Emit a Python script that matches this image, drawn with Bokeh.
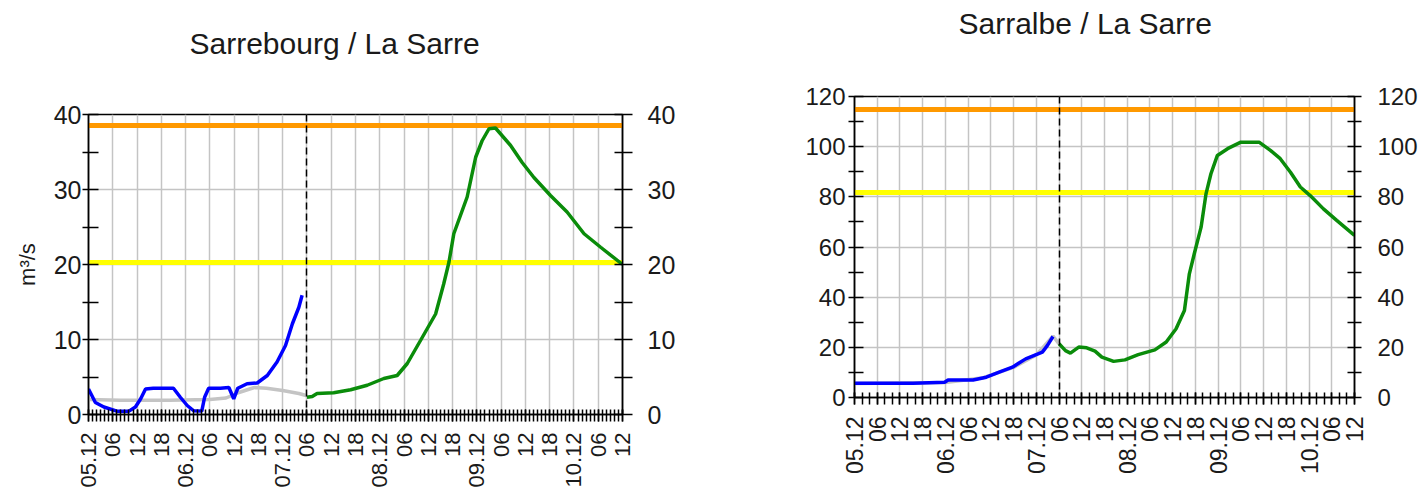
import math
from bokeh.plotting import figure
from bokeh.models import LinearAxis, FixedTicker, Range1d, Spacer
from bokeh.layouts import row, column
from bokeh.embed import file_html
from bokeh.resources import INLINE

# ---------------- data ----------------
hours = list(range(0, 133, 6))
tick_labels = ["05.12", "06", "12", "18", "06.12", "06", "12", "18", "07.12", "06", "12", "18",
               "08.12", "06", "12", "18", "09.12", "06", "12", "18", "10.12", "06", "12"]
now_hour = 54

# Sarrebourg
sb_obs_t = [0, 1.7, 3.8, 7, 10, 11.6, 12.9, 14.1, 16, 21, 22.7, 24.4, 26, 28, 28.7, 29.7, 32.6,
            34.7, 35.9, 36.9, 39.2, 41.7, 44.2, 46.6, 48.7, 50.4, 52, 52.8]
sb_obs_q = [3.4, 1.6, 1.0, 0.45, 0.45, 1.0, 2.1, 3.4, 3.5, 3.5, 2.3, 1.2, 0.5, 0.45, 2.3, 3.5, 3.5,
            3.6, 2.1, 3.5, 4.1, 4.2, 5.2, 7.0, 9.2, 12.1, 14.3, 15.9]
sb_sim_t = [0, 8, 20, 30, 34, 37, 41, 44, 48, 52, 54]
sb_sim_q = [2.0, 1.9, 1.9, 2.0, 2.2, 2.9, 3.6, 3.5, 3.2, 2.8, 2.5]
sb_fc_t = [54, 55.3, 56.5, 60.6, 64.8, 68.9, 73, 76.3, 78.8, 82.1, 85.8, 87.8, 89.1, 90.3, 93.6,
           95.7, 97.3, 99, 100.6, 104.3, 107.2, 110.1, 114.2, 118.3, 122.5, 126.6, 132]
sb_fc_q = [2.3, 2.4, 2.8, 2.9, 3.3, 3.9, 4.8, 5.2, 6.8, 9.9, 13.4, 17.4, 20.3, 24.1, 29.0,
           34.3, 36.5, 38.1, 38.2, 35.9, 33.6, 31.6, 29.2, 27.0, 24.1, 22.3, 20.0]
sb_thresholds = [38.5, 20.3]

# Sarralbe
sa_obs_t = [0, 15.5, 23.8, 24.7, 31.3, 34.8, 38.2, 41.7, 45.2, 49.6, 50.9, 52.4]
sa_obs_q = [5.7, 5.7, 6.1, 7.0, 7.0, 8.1, 10.1, 12.1, 15.4, 18.1, 20.7, 24.3]
sa_sim_t = [0, 24, 34, 42, 48, 52.4, 54]
sa_sim_q = [5.6, 6.0, 7.9, 12.0, 17.0, 24.5, 21.4]
sa_fc_t = [54, 55.7, 57, 59.2, 61.3, 63.5, 65.3, 68.4, 71.4, 74.9, 79.3, 82.3, 84.9, 87.1, 88.4,
           89.7, 91.5, 92.8, 94.1, 95.8, 98.5, 102, 106.8, 109.8, 112.4, 115.1, 117.7, 120.3,
           123.8, 127.3, 132]
sa_fc_q = [21.4, 18.7, 17.7, 20.1, 19.8, 18.5, 16.1, 14.4, 15.0, 17.1, 19.0, 22.1, 27.4, 34.7, 49.3,
           57.3, 67.9, 81.2, 89.2, 96.5, 99.2, 101.8, 101.8, 98.5, 95.2, 89.8, 83.9, 80.5,
           75.2, 70.6, 64.6]
sa_thresholds = [115, 81.8]

FONT = "Liberation Sans"
TXT = "#1a1a1a"
threshold_colors = ["#ff9900", "#ffff00"]


def make_chart(title, ymax, ystep, obs_t, obs_q, sim_t, sim_q, fc_t, fc_q, thresholds,
               width, height, bl, br, bt, bb, title_offset, title_lh, ylabel,
               ytick_font, xtick_font, left_in, left_out, right_in, right_out,
               lstand, rstand, xstand, minor_step):
    p = figure(width=width, height=height, output_backend="svg", toolbar_location=None,
               x_range=Range1d(0, 132), y_range=Range1d(0, ymax),
               min_border_left=bl, min_border_right=br, min_border_top=bt, min_border_bottom=bb,
               background_fill_color="white", border_fill_color="white")
    p.outline_line_color = "black"
    p.outline_line_width = 1.5

    # title (second, blank line lifts it away from the frame)
    p.title.text = title + "\n "
    p.title.text_font = FONT
    p.title.text_font_size = "30px"
    p.title.text_font_style = "normal"
    p.title.text_color = TXT
    p.title.text_line_height = title_lh
    p.title.align = "left"
    p.title.offset = title_offset
    p.title.standoff = 0

    yt = list(range(0, ymax + 1, ystep))
    yminor = [v + ystep / 2 for v in yt[:-1]]
    minor_h = [h for h in range(0, 133, minor_step)]
    xt = FixedTicker(ticks=hours, minor_ticks=minor_h)

    # grids
    p.xgrid.ticker = FixedTicker(ticks=hours)
    p.ygrid.ticker = FixedTicker(ticks=yt)
    for g in (p.xgrid, p.ygrid):
        g.grid_line_color = "#c4c4c4"
        g.grid_line_width = 1.5

    # x axis
    xa = p.xaxis[0]
    xa.ticker = xt
    xa.major_label_overrides = {h: lab for h, lab in zip(hours, tick_labels)}
    xa.major_label_orientation = math.pi / 2
    xa.major_label_text_font = FONT
    xa.major_label_text_font_size = xtick_font
    xa.major_label_text_color = TXT
    xa.major_label_standoff = xstand
    xa.major_tick_in = 5
    xa.major_tick_out = 7
    xa.minor_tick_in = 5
    xa.minor_tick_out = 7
    xa.major_tick_line_width = 1.5
    xa.minor_tick_line_width = 1.5
    xa.axis_line_width = 1.5
    xa.major_tick_line_color = "black"
    xa.minor_tick_line_color = "black"

    # y axes
    ya = p.yaxis[0]
    ra = LinearAxis()
    p.add_layout(ra, "right")
    for ax, tin, tout, st in ((ya, left_in, left_out, lstand), (ra, right_in, right_out, rstand)):
        ax.ticker = FixedTicker(ticks=yt, minor_ticks=yminor)
        ax.major_label_text_font = FONT
        ax.major_label_text_font_size = ytick_font
        ax.major_label_text_color = TXT
        ax.major_label_standoff = st
        ax.major_tick_in = tin
        ax.major_tick_out = tout
        ax.minor_tick_in = tin
        ax.minor_tick_out = tout
        ax.major_tick_line_width = 1.5
        ax.minor_tick_line_width = 1.5
        ax.axis_line_width = 1.5
        ax.major_tick_line_color = "black"
        ax.minor_tick_line_color = "black"
    if ylabel:
        ya.axis_label = ylabel
        ya.axis_label_text_font = FONT
        ya.axis_label_text_font_size = "22px"
        ya.axis_label_text_font_style = "normal"
        ya.axis_label_text_color = TXT
        ya.axis_label_standoff = 11

    # thresholds
    p.hspan(y=thresholds, line_color=threshold_colors, line_width=5)
    # series
    p.line(sim_t, sim_q, line_color="#c4c4c4", line_width=3.5)
    p.line(obs_t, obs_q, line_color="#0000ff", line_width=3.5)
    p.line(fc_t, fc_q, line_color="#0a8c0a", line_width=3.5)
    # now marker
    p.vspan(x=[now_hour], line_color="black", line_width=1.5, line_dash="7 4")
    return p


p1 = make_chart("Sarrebourg / La Sarre", 40, 10, sb_obs_t, sb_obs_q, sb_sim_t, sb_sim_q,
                sb_fc_t, sb_fc_q, sb_thresholds,
                width=700, height=476, bl=88, br=78, bt=96, bb=80,
                title_offset=101, title_lh=1.65, ylabel="m³/s",
                ytick_font="25px", xtick_font="22px",
                left_in=10, left_out=6, right_in=8, right_out=10,
                lstand=1, rstand=15, xstand=11, minor_step=1)
p2 = make_chart("Sarralbe / La Sarre", 120, 20, sa_obs_t, sa_obs_q, sa_sim_t, sa_sim_q,
                sa_fc_t, sa_fc_q, sa_thresholds,
                width=720, height=477, bl=154, br=62, bt=96, bb=80,
                title_offset=104, title_lh=1.71, ylabel=None,
                ytick_font="24px", xtick_font="23px",
                left_in=9, left_out=6, right_in=7, right_out=7,
                lstand=3, rstand=16, xstand=12, minor_step=2)

layout = row(column(Spacer(width=700, height=18), p1), column(p2, Spacer(width=720, height=17)))
open("out.html", "w").write(file_html(layout, INLINE))
